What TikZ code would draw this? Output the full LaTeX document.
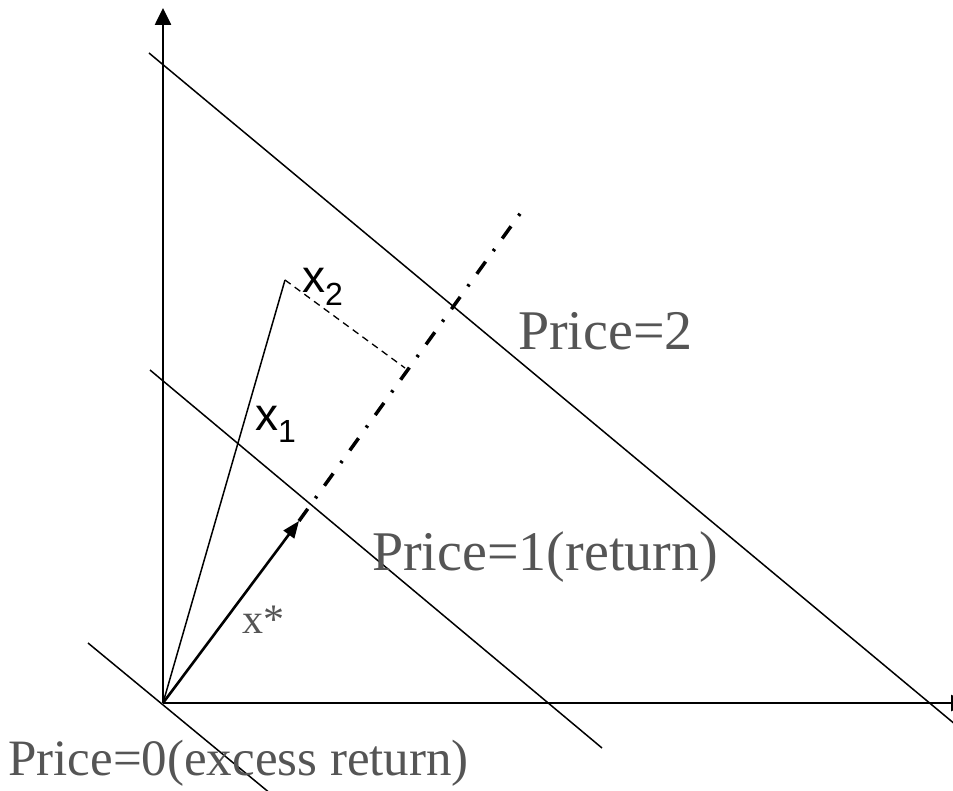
\documentclass[tikz,border=0pt]{standalone}
\usepackage{fontspec}
\setmainfont{Liberation Serif}
\setsansfont{Liberation Sans}
\usetikzlibrary{arrows.meta}
\definecolor{labelgray}{HTML}{555555}
\newcommand{\lowidx}[1]{\raisebox{-13pt}{\fontsize{32pt}{32pt}\selectfont #1}}

\begin{document}
\begin{tikzpicture}[x=1pt, y=-1pt,
  axis/.style={line width=2.6pt, -{Triangle[length=17pt, width=16pt]}},
  level/.style={line width=1.5pt},
  proj/.style={line width=1.3pt, dash pattern=on 7pt off 5pt},
  ray/.style={line width=3.5pt, dash pattern=on 15pt off 13pt on 2.5pt off 13pt},
  vec/.style={line width=2.6pt, -{Triangle[length=17pt, width=13pt]}},
  price/.style={inner sep=0pt, anchor=base west, text=labelgray, font=\fontsize{56pt}{60pt}\selectfont},
  sym/.style={inner sep=0pt, anchor=base west, font=\sffamily\fontsize{46pt}{50pt}\selectfont},
]
\useasboundingbox (0,0) rectangle (953,791);
% Points
\coordinate (O) at (163,703);
\coordinate (ytop) at (163,8);
\coordinate (xend) at (968,703);
\coordinate (p0a) at (88,643);
\coordinate (p0b) at (271,794);
\coordinate (p1a) at (150,370);
\coordinate (p1b) at (602,748);
\coordinate (p2a) at (149,53);
\coordinate (p2b) at (962,730);
\coordinate (xtwo) at (285,280);
\coordinate (foot) at (405,368);
\coordinate (xstar) at (299,521);
\coordinate (rayend) at (522,211);

% Axes
\draw[axis] (O) -- (ytop);
\draw[axis] (O) -- (xend);

% Price lines
\draw[level] (p0a) -- (p0b);
\draw[level] (p1a) -- (p1b);
\draw[level] (p2a) -- (p2b);

% Vectors
\draw[level] (O) -- (xtwo);
\draw[proj] (xtwo) -- (foot);
\draw[ray] (xstar) -- (rayend);
\draw[vec] (O) -- (xstar);

% Labels
\node[price] (lbl2) at (518,350) {Price=2};
\node[price] (lbl1) at (372,570) {Price=1(return)};
\node[price, font=\fontsize{51pt}{55pt}\selectfont] (lbl0) at (8,775) {Price=0(excess return)};
\node[price, font=\fontsize{42pt}{46pt}\selectfont] (lblx) at (242,633) {x*};
\node[sym] (lblx1) at (255,430) {x\lowidx{1}};
\node[sym] (lblx2) at (302,293) {x\lowidx{2}};
\end{tikzpicture}
\end{document}
